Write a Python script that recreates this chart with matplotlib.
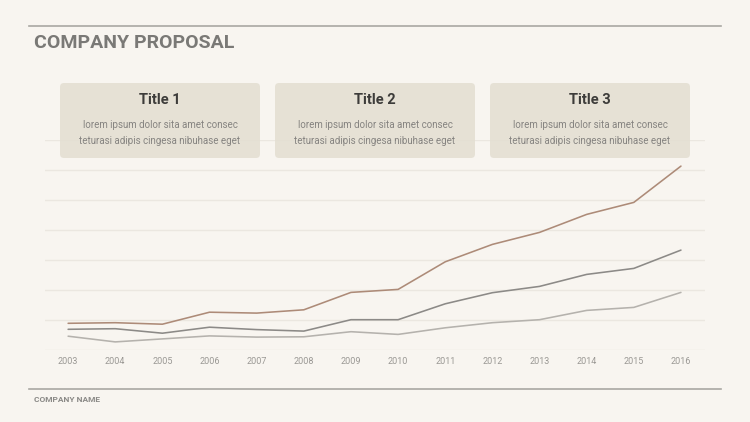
import matplotlib
matplotlib.use('Agg')
import matplotlib.pyplot as plt
from matplotlib.patches import FancyBboxPatch

years = list(range(2003, 2017))
series_top = [8.9, 9.1, 8.6, 12.6, 12.3, 13.4, 19.2, 20.2, 29.4, 35.2, 39.2, 45.2, 49.2, 61.3]
series_mid = [6.9, 7.1, 5.6, 7.6, 6.8, 6.3, 10.1, 10.1, 15.4, 19.1, 21.2, 25.2, 27.2, 33.3]
series_low = [4.6, 2.7, 3.7, 4.7, 4.3, 4.4, 6.1, 5.2, 7.4, 9.1, 10.1, 13.2, 14.2, 19.2]
line_colors = ['#ad8b78', '#8c8a87', '#b5b2ad']

card_titles = ['Title 1', 'Title 2', 'Title 3']
card_text = 'lorem ipsum dolor sita amet consec\nteturasi adipis cingesa nibuhase eget'

BG = '#f8f5f0'
W, H = 750, 422

fig = plt.figure(figsize=(7.5, 4.22), dpi=100, facecolor=BG)

# chart area
ax = fig.add_axes([45 / W, (H - 350) / H, 660 / W, 210 / H])
ax.set_facecolor(BG)
for s, c in zip([series_top, series_mid, series_low], line_colors):
    ax.plot(years, s, color=c, lw=1.15, solid_capstyle='round', zorder=3)
ax.set_xlim(2002.51, 2016.51)
ax.set_ylim(0, 70)
ax.set_yticks(range(0, 71, 10))
ax.set_xticks(years)
ax.set_xticklabels([str(y) for y in years], fontsize=6.5, color='#9a9894', family='Roboto')
ax.tick_params(axis='x', length=0, pad=5)
ax.tick_params(axis='y', length=0, labelleft=False)
ax.grid(axis='y', color='#ebe7e0', lw=1.0)
ax.set_axisbelow(True)
for sp in ax.spines.values():
    sp.set_visible(False)

# overlay in pixel coordinates for header, cards and footer
ov = fig.add_axes([0, 0, 1, 1], zorder=5)
ov.set_xlim(0, W)
ov.set_ylim(H, 0)
ov.axis('off')
ov.patch.set_alpha(0)

ov.plot([29, 721], [25.5, 25.5], color='#a9a8a3', lw=1.2)
ov.text(34, 43, 'COMPANY PROPOSAL', fontsize=14, fontweight='bold', color='#7a7976',
        family='Roboto', va='center', ha='left')

for i, t in enumerate(card_titles):
    x0 = 60 + i * 215
    box = FancyBboxPatch((x0, 83), 200, 75, boxstyle='round,pad=0,rounding_size=4',
                         fc='#e3ded1', ec='none', alpha=0.85)
    ov.add_patch(box)
    ov.text(x0 + 100, 100, t, fontsize=10.5, fontweight='bold', color='#3d3c3a',
            family='Roboto', ha='center', va='center')
    ov.text(x0 + 100, 133, card_text, fontsize=7.0, color='#858380', family='Roboto',
            ha='center', va='center', linespacing=1.8)

ov.plot([29, 721], [389, 389], color='#a9a8a3', lw=1.2)
ov.text(34, 399.5, 'COMPANY NAME', fontsize=6, fontweight='bold', color='#8a8986',
        family='Roboto', va='center', ha='left')

fig.savefig('out.png', dpi=100, facecolor=BG)
